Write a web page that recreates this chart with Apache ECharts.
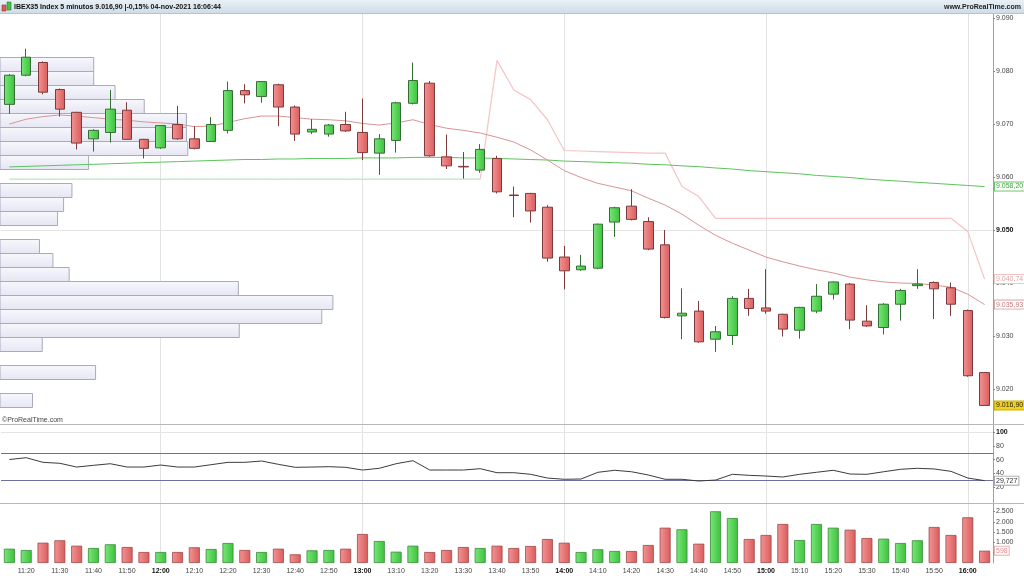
<!DOCTYPE html>
<html><head><meta charset="utf-8">
<script src="https://cdn.jsdelivr.net/npm/echarts@6/dist/echarts.min.js"></script>
<style>html,body{margin:0;padding:0;background:#fff}#c{width:1024px;height:576px}</style>
</head><body><div id="c"></div>
<script>
const titleText = 'IBEX35 Index 5 minutos 9.016,90 |-0,15% 04-nov-2021 16:06:44';
const siteText = 'www.ProRealTime.com';
const copyText = '\u00A9ProRealTime.com';

const times = ['11:15','11:20','11:25','11:30','11:35','11:40','11:45','11:50','11:55',
 '12:00','12:05','12:10','12:15','12:20','12:25','12:30','12:35','12:40','12:45','12:50','12:55',
 '13:00','13:05','13:10','13:15','13:20','13:25','13:30','13:35','13:40','13:45','13:50','13:55',
 '14:00','14:05','14:10','14:15','14:20','14:25','14:30','14:35','14:40','14:45','14:50','14:55',
 '15:00','15:05','15:10','15:15','15:20','15:25','15:30','15:35','15:40','15:45','15:50','15:55',
 '16:00','16:05'];

const openP  = [9073.7,9079.2,9081.6,9076.5,9072.2,9067.2,9068.4,9072.6,9067.1,9065.5,
                9069.9,9067.2,9066.7,9068.8,9076.3,9075.2,9077.4,9073.2,9068.5,9068.1,
                9069.9,9068.4,9064.5,9066.9,9073.9,9077.7,9063.8,9062.0,9061.3,9063.5,
                9056.6,9056.9,9054.3,9044.9,9042.5,9042.8,9051.5,9054.5,9051.6,9047.2,
                9033.8,9034.7,9029.4,9030.1,9037.1,9035.3,9034.1,9031.1,9034.7,9037.9,
                9039.8,9032.8,9031.6,9036.0,9039.5,9040.1,9039.1,9034.8,9023.1];
const closeP = [9079.2,9082.6,9076.0,9072.8,9066.4,9068.8,9072.8,9067.1,9065.4,9069.7,
                9067.2,9065.4,9069.9,9076.3,9075.5,9078.0,9073.2,9068.1,9069.0,9069.8,
                9068.7,9064.6,9067.2,9074.0,9078.2,9064.0,9062.1,9061.9,9065.2,9057.2,
                9056.5,9053.6,9044.7,9042.3,9043.2,9051.1,9054.2,9052.0,9046.4,9033.5,
                9034.3,9028.9,9030.8,9037.1,9035.2,9034.7,9031.3,9035.4,9037.5,9040.2,
                9033.0,9031.9,9036.0,9038.6,9039.8,9038.9,9036.0,9022.5,9016.9];
const lowP   = [9071.9,9079.0,9075.6,9071.4,9065.2,9064.8,9066.5,9067.0,9063.5,9065.3,
                9067.0,9065.2,9066.6,9068.2,9073.9,9074.0,9069.6,9066.8,9068.1,9067.6,
                9068.5,9063.2,9060.4,9064.6,9073.7,9063.8,9061.5,9059.7,9060.8,9056.9,
                9052.4,9051.4,9044.0,9038.8,9042.3,9042.6,9048.7,9051.8,9046.2,9033.3,
                9029.4,9028.7,9027.0,9028.3,9033.8,9034.2,9029.9,9029.5,9034.3,9036.9,
                9031.3,9031.7,9030.3,9032.9,9038.9,9033.2,9033.8,9022.3,9016.9];
const highP  = [9079.4,9084.2,9081.8,9076.7,9072.3,9069.0,9076.4,9074.1,9067.2,9069.8,
                9073.4,9069.6,9071.3,9078.0,9077.5,9078.1,9077.6,9073.5,9070.9,9070.0,
                9072.3,9074.8,9068.1,9074.2,9081.6,9078.1,9068.0,9064.7,9066.2,9064.0,
                9058.2,9057.0,9054.7,9047.0,9045.3,9051.2,9054.4,9057.7,9052.4,9050.0,
                9039.0,9036.6,9031.9,9037.5,9038.9,9042.6,9034.2,9035.5,9039.8,9040.3,
                9040.0,9035.8,9036.2,9038.9,9042.6,9040.3,9040.1,9035.0,9023.2];

const volume = [694,631,985,1102,840,728,908,777,534,534,
                534,762,680,971,631,534,694,422,615,631,
                694,1408,1068,549,840,534,631,777,728,840,
                728,825,1165,985,534,665,583,583,874,1714,
                1636,937,2510,2184,1165,1359,1893,1117,1893,1714,
                1617,1214,1180,971,1102,1748,1359,2218,598];

const maFast = [9070.0,9070.9,9071.4,9071.7,9071.5,9071.2,9070.9,9070.7,9070.4,9070.2,
                9070.0,9069.5,9069.6,9070.3,9071.0,9071.5,9071.5,9071.2,9070.9,9070.8,
                9070.6,9070.1,9069.8,9070.2,9070.8,9069.9,9069.2,9068.8,9068.3,9067.5,
                9066.6,9065.1,9063.2,9061.2,9059.9,9058.8,9058.1,9057.4,9056.0,9054.7,
                9053.0,9050.9,9049.0,9047.5,9046.2,9044.9,9044.0,9043.2,9042.5,9041.9,
                9041.1,9040.6,9040.2,9040.0,9039.9,9039.6,9039.2,9037.9,9035.93];
const maSlow = [9061.9,9062.0,9062.1,9062.2,9062.3,9062.4,9062.5,9062.6,9062.7,9062.8,
                9062.9,9063.0,9063.1,9063.2,9063.3,9063.3,9063.4,9063.4,9063.5,9063.5,
                9063.5,9063.6,9063.6,9063.6,9063.7,9063.7,9063.7,9063.6,9063.6,9063.5,
                9063.4,9063.3,9063.2,9063.0,9062.9,9062.8,9062.7,9062.6,9062.4,9062.3,
                9062.1,9061.95,9061.7,9061.5,9061.2,9061.0,9060.8,9060.6,9060.3,9060.1,
                9059.9,9059.6,9059.4,9059.2,9059.0,9058.8,9058.6,9058.4,9058.2];
const stopUp = [9059.6,9059.6,9059.6,9059.6,9059.6,9059.6,9059.6,9059.6,9059.6,9059.6,
                9059.6,9059.6,9059.6,9059.6,9059.6,9059.6,9059.6,9059.6,9059.6,9059.6,
                9059.6,9059.6,9059.6,9059.6,9059.6,9059.6,9059.6,9059.6,9059.6,null,
                null,null,null,null,null,null,null,null,null,null,
                null,null,null,null,null,null,null,null,null,null,
                null,null,null,null,null,null,null,null,null];
const stopDown = [null,null,null,null,null,null,null,null,null,null,
                null,null,null,null,null,null,null,null,null,null,
                null,null,null,null,null,null,null,null,9059.6,9082.0,
                9076.4,9074.6,9070.8,9065.0,9064.9,9064.8,9064.7,9064.6,9064.5,9064.5,
                9058.2,9056.3,9052.2,9052.2,9052.2,9052.2,9052.2,9052.2,9052.2,9052.2,
                9052.2,9052.2,9052.2,9052.2,9052.2,9052.2,9052.2,9049.7,9040.74];
const rsi = [60.3,62.9,56.2,54.8,49.4,51.9,54.2,49.4,49.4,52.3,
             49.4,49.4,52.8,56.2,56.2,58.1,53.3,49.0,49.4,49.9,
             49.0,45.1,47.6,54.2,58.6,45.1,45.1,45.1,47.0,41.2,
             41.2,38.9,33.5,31.7,32.1,41.8,44.7,42.6,37.9,31.7,
             31.7,29.2,30.6,38.9,37.4,36.4,35.0,38.9,41.8,44.7,
             39.3,38.9,42.6,46.1,47.6,46.6,43.2,33.5,29.727];

const profileStep = 2.64;
const profileLow = [9079.94,9077.30,9074.66,9072.02,9069.38,9066.74,9064.10,9061.46,9058.82,9056.18,
                    9053.54,9050.90,9048.26,9045.62,9042.98,9040.34,9037.70,9035.06,9032.42,9029.78,
                    9027.14,9024.50,9021.86,9019.22,9016.58];
const profileVol = [2000,2000,2460,3090,4000,4000,4030,1890,0,1530,
                    1350,1220,0,830,1120,1470,5120,7160,6920,5140,
                    890,0,2040,0,680];

const priceTicks = [9020,9030,9040,9050,9060,9070,9080,9090];
const rsiTicks = [20,40,60,80,100];
const volTicks = [500,1000,1500,2000,2500];
const hourMarks = ['12:00','13:00','14:00','15:00','16:00'];

const FONT = 'Liberation Sans';
const fmtInt = v => String(Math.round(v)).replace(/\B(?=(\d{3})+(?!\d))/g, '.');
const fmtDec = (v, d) => { const s = v.toFixed(d).split('.'); return s[0].replace(/\B(?=(\d{3})+(?!\d))/g, '.') + ',' + s[1]; };

const G = echarts.graphic;
const upFill = new G.LinearGradient(0,0,1,0,[{offset:0,color:'#78e878'},{offset:1,color:'#3cc03c'}]);
const downFill = new G.LinearGradient(0,0,1,0,[{offset:0,color:'#f49494'},{offset:1,color:'#d85c5c'}]);
const profFill = new G.LinearGradient(0,0,0,1,[{offset:0,color:'#f7f7fd'},{offset:1,color:'#e6e6f3'}]);

const ohlc = times.map((t,i)=>[openP[i], closeP[i], lowP[i], highP[i]]);
const volData = volume.map((v,i)=>({value:v, itemStyle: closeP[i] >= openP[i]
   ? {color:upFill, borderColor:'#3a8a3a', borderWidth:0.8}
   : {color:downFill, borderColor:'#a04848', borderWidth:0.8}}));
const profileData = profileLow.map((lo,k)=>[lo, lo+profileStep, profileVol[k]]).filter(d=>d[2]>0);

const hourLine = hourMarks.map(h=>({xAxis:h, lineStyle:{color:'#e2e2e2', width:1, type:'solid'}, label:{show:false}}));
const endLabel = (val, text, st) => ({yAxis:val, lineStyle:{color:'rgba(255,255,255,0)', width:1, opacity:1},
   label:Object.assign({show:true, position:'end', distance:2, formatter:text, fontSize:7, fontFamily:FONT, opacity:1,
   padding:[1,1,0,1], borderWidth:1, backgroundColor:'#fff'}, st)});
const mk = (data, z) => ({silent:true, symbol:'none', animation:false, z:z, data});

const yAx = (grid, min, max, ticks, fmt, boldVal) => ({
  type:'value', gridIndex:grid, position:'right', min, max,
  axisLine:{show:true, onZero:false, lineStyle:{color:'#a0a0a0'}},
  axisTick:{show:true, length:2, customValues:ticks, lineStyle:{color:'#888'}},
  axisLabel:{customValues:ticks, fontSize:7, color:'#444', fontFamily:FONT, margin:3,
    formatter: v => (v === boldVal ? '{b|' + fmt(v) + '}' : fmt(v)),
    rich:{b:{fontWeight:'bold', fontSize:7, color:'#111', fontFamily:FONT}}},
  splitLine:{show:false}
});
const xAx = (grid, labels) => ({
  type:'category', gridIndex:grid, data:times, boundaryGap:true,
  axisLine:{show:false, onZero:false}, axisTick:{show:false}, splitLine:{show:false},
  axisLabel: labels ? {show:true, fontSize:7, color:'#444', fontFamily:FONT, margin:5,
     interval:(i,v)=>v.slice(-1)==='0',
     formatter:v=>v.endsWith(':00') ? '{b|'+v+'}' : v,
     rich:{b:{fontWeight:'bold', fontSize:7, color:'#111', fontFamily:FONT}}} : {show:false}
});

const option = {
  animation:false,
  backgroundColor:'#ffffff',
  grid:[
    {left:1, width:992, top:14, height:410},
    {left:1, width:992, top:425, height:78},
    {left:1, width:992, top:504, height:59}
  ],
  xAxis:[xAx(0,false), xAx(1,false), xAx(2,true),
         {type:'value', gridIndex:0, min:0, max:21400, show:false, axisLine:{onZero:false}}],
  yAxis:[
    yAx(0, 9013.4, 9090.75, priceTicks, fmtInt, 9050),
    yAx(1, -2.6, 110.2, rsiTicks, v=>String(v), 100),
    yAx(2, 0, 2864, volTicks, fmtInt, null)
  ],
  graphic:[
    {type:'rect', left:0, top:0, shape:{width:1024, height:13}, style:{fill:new G.LinearGradient(0,0,0,1,[{offset:0,color:'#e8f0f5'},{offset:1,color:'#cfdde8'}])}, z:10},
    {type:'line', shape:{x1:0,y1:13.5,x2:1024,y2:13.5}, style:{stroke:'#b8c4cc', lineWidth:1}, z:10},
    {type:'rect', shape:{x:2,y:5,width:4,height:6}, style:{fill:'#e05a5a', stroke:'#a03030', lineWidth:0.6}, z:11},
    {type:'rect', shape:{x:7,y:2,width:4,height:8}, style:{fill:'#44c444', stroke:'#2a7a2a', lineWidth:0.6}, z:11},
    {type:'text', x:14, y:7, style:{text:titleText, font:'bold 7px "Liberation Sans Narrow", "Liberation Sans", sans-serif', fill:'#111', textVerticalAlign:'middle'}, z:11},
    {type:'text', x:1021, y:7, style:{text:siteText, font:'bold 7px "Liberation Sans", sans-serif', fill:'#222', textAlign:'right', textVerticalAlign:'middle'}, z:11},
    {type:'line', shape:{x1:0,y1:424.5,x2:1024,y2:424.5}, style:{stroke:'#b8b8b8', lineWidth:1}, z:10},
    {type:'line', shape:{x1:0,y1:503.5,x2:1024,y2:503.5}, style:{stroke:'#b8b8b8', lineWidth:1}, z:10},
    {type:'text', x:2, y:420, style:{text:copyText, font:'7px "Liberation Sans", sans-serif', fill:'#444', textVerticalAlign:'middle'}, z:11}
  ],
  series:[
    {type:'custom', name:'profile', xAxisIndex:3, yAxisIndex:0, z:1, silent:true, data:profileData,
     renderItem:(params, api)=>{
       const p0 = api.coord([0, api.value(1)]);
       const p1 = api.coord([api.value(2), api.value(0)]);
       return {type:'rect', shape:{x:p0[0]-1, y:Math.round(p0[1])+0.5, width:p1[0]-p0[0]+1, height:Math.round(p1[1]-p0[1])},
               style:{fill:profFill, stroke:'#a9a9bf', lineWidth:1}};
     }},
    {type:'line', name:'stopUp', xAxisIndex:0, yAxisIndex:0, data:stopUp, symbol:'none', z:2,
     lineStyle:{color:'#a6e2a6', width:1}, connectNulls:false,
     markLine:mk(hourLine.concat([{yAxis:9050, lineStyle:{color:'#e4e4e4', width:1, type:'solid'}, label:{show:false}}]), 0)},
    {type:'line', name:'stopDown', xAxisIndex:0, yAxisIndex:0, data:stopDown, symbol:'none', z:3, clip:false,
     lineStyle:{color:'#f6c4c4', width:1.2},
     markLine:mk([endLabel(9040.74, fmtDec(9040.74,2), {color:'#e0a4a4', borderColor:'#ecc4c4'})], 10)},
    {type:'line', name:'maSlow', xAxisIndex:0, yAxisIndex:0, data:maSlow, symbol:'none', z:3, clip:false,
     lineStyle:{color:'#5cc45c', width:1},
     markLine:mk([endLabel(9058.2, fmtDec(9058.2,2), {color:'#3aa33a', borderColor:'#6cc46c'})], 10)},
    {type:'line', name:'maFast', xAxisIndex:0, yAxisIndex:0, data:maFast, symbol:'none', z:3, clip:false,
     lineStyle:{color:'#d89494', width:1},
     markLine:mk([endLabel(9035.93, fmtDec(9035.93,2), {color:'#c87878', borderColor:'#dcaaaa'})], 10)},
    {type:'candlestick', name:'IBEX35', xAxisIndex:0, yAxisIndex:0, data:ohlc, z:5, barWidth:10, clip:false,
     itemStyle:{color:upFill, color0:downFill, borderColor:'#356e35', borderColor0:'#7e3a3a', borderWidth:1},
     markLine:mk([endLabel(9016.9, fmtDec(9016.9,2), {color:'#222', backgroundColor:'#f2d11c', borderColor:'#cfb000'})], 10)},
    {type:'line', name:'RSIgrid', xAxisIndex:1, yAxisIndex:1, data:rsi.map(()=>null), symbol:'none', z:1,
     lineStyle:{opacity:0},
     markLine:mk(hourLine.concat([
       {yAxis:100, lineStyle:{color:'#e4e4e4', width:1, type:'solid'}, label:{show:false}},
       {yAxis:70, lineStyle:{color:'#7070a0', width:1.2, type:'solid'}, label:{show:false}},
       {yAxis:30, lineStyle:{color:'#7070a0', width:1.2, type:'solid'}, label:{show:false}}
     ]), 1)},
    {type:'line', name:'RSI', xAxisIndex:1, yAxisIndex:1, data:rsi, symbol:'none', z:3, clip:false,
     lineStyle:{color:'#3c3c3c', width:1},
     markLine:mk([endLabel(29.727, '29,727', {color:'#333', borderColor:'#a8a8a8'})], 10)},
    {type:'line', name:'volGrid', xAxisIndex:2, yAxisIndex:2, data:volume.map(()=>null), symbol:'none', z:1,
     lineStyle:{opacity:0}, markLine:mk(hourLine, 0)},
    {type:'bar', name:'Volume', xAxisIndex:2, yAxisIndex:2, data:volData, barWidth:11, z:3, clip:false,
     markLine:mk([endLabel(598, '598', {color:'#e08a8a', borderColor:'#e8b0b0'})], 10)}
  ]
};
const chart = echarts.init(document.getElementById('c'), null, {renderer:'canvas', width:1024, height:576});
chart.setOption(option);
</script></body></html>
